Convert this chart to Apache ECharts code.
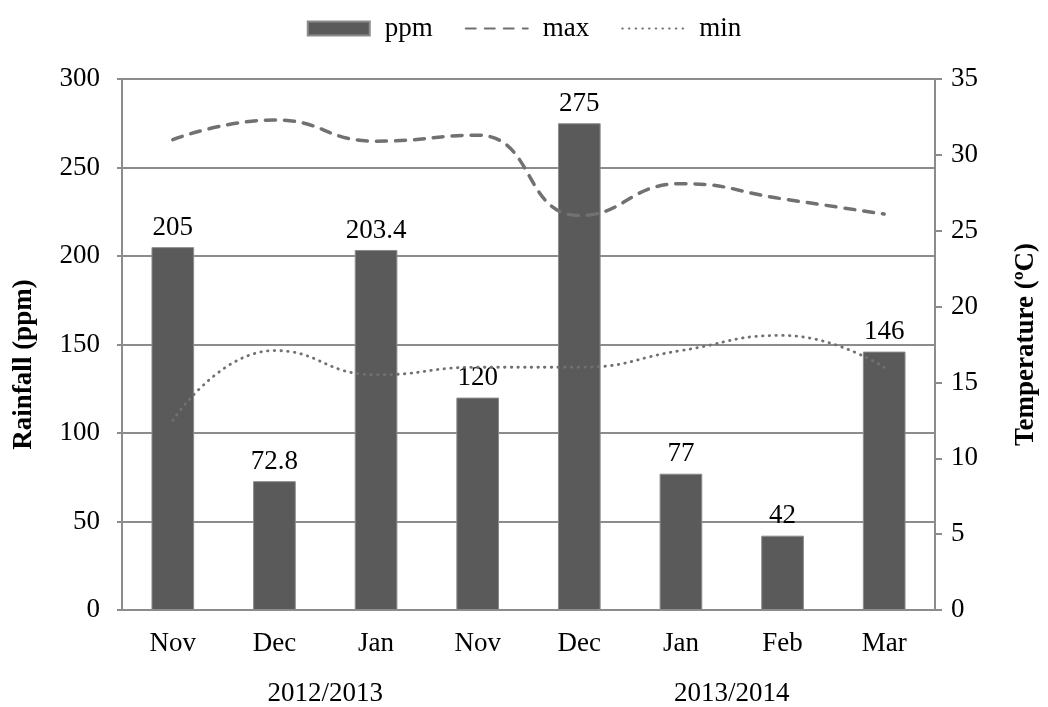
<!DOCTYPE html>
<html><head><meta charset="utf-8">
<script src="https://cdn.jsdelivr.net/npm/echarts@6/dist/echarts.min.js"></script>
<style>html,body{margin:0;padding:0;background:#fff}#c{width:1048px;height:707px}</style>
</head><body><div id="c"></div>
<script>
const months = ['Nov','Dec','Jan','Nov','Dec','Jan','Feb','Mar'];
const seasons = ['', '2012/2013', '', '2013/2014', ''];
const ppm = [205, 72.8, 203.4, 120, 275, 77, 42, 146];
const tMax = [31, 32.3, 30.9, 31.3, 26, 28.1, 27.1, 26.1];
const tMin = [12.5, 17.1, 15.5, 16, 16, 17.1, 18.1, 16];

const F = 'Liberation Serif, Times New Roman, serif';
const FS = 27;
const chart = echarts.init(document.getElementById('c'), null, {renderer:'canvas'});
chart.setOption({
  animation:false,
  textStyle:{fontFamily:F, color:'#000'},
  legend:{top:10, left:'center', itemGap:32, itemWidth:62, itemHeight:14,
    textStyle:{fontFamily:F, fontSize:FS, color:'#000', padding:[0,0,0,10]},
    data:[{name:'ppm', icon:'rect'},
          {name:'max', itemStyle:{opacity:0}},
          {name:'min', itemStyle:{opacity:0}}]},
  grid:{left:122, right:108, top:79, bottom:95, containLabel:false},
  xAxis:[
    {type:'category', data:months, axisLine:{lineStyle:{color:'#8c8c8c', width:2}},
     axisTick:{show:false}, axisLabel:{fontFamily:F, fontSize:FS, color:'#000', margin:20}},
    {type:'category', data:seasons, position:'bottom', boundaryGap:false, offset:62,
     axisLine:{show:false}, axisTick:{show:false}, splitLine:{show:false},
     axisLabel:{fontFamily:F, fontSize:FS, color:'#000', interval:0}}
  ],
  yAxis:[
    {type:'value', min:0, max:300, interval:50, name:'Rainfall (ppm)', nameLocation:'middle', nameGap:84,
     nameTextStyle:{fontFamily:F, fontSize:FS, fontWeight:'bold', color:'#000', padding:[0,40,0,0]},
     axisLine:{show:true, lineStyle:{color:'#8c8c8c', width:2}},
     axisTick:{show:true, length:5, lineStyle:{color:'#8c8c8c', width:2}},
     axisLabel:{fontFamily:F, fontSize:FS, color:'#000', margin:22},
     splitLine:{lineStyle:{color:'#8c8c8c', width:2}}},
    {type:'value', min:0, max:35, interval:5, name:'Temperature (ºC)', nameLocation:'middle', nameGap:78,
     nameRotate:90,
     nameTextStyle:{fontFamily:F, fontSize:FS, fontWeight:'bold', color:'#000'},
     axisLine:{show:true, lineStyle:{color:'#8c8c8c', width:2}},
     axisTick:{show:true, length:7, lineStyle:{color:'#8c8c8c', width:2}},
     axisLabel:{fontFamily:F, fontSize:FS, color:'#000', margin:16},
     splitLine:{show:false}}
  ],
  series:[
    {name:'ppm', type:'bar', data:ppm, barWidth:'42%', z:2,
     itemStyle:{color:'#5a5a5a', borderColor:'#8c8c8c', borderWidth:1},
     label:{show:true, position:'top', distance:6, fontFamily:F, fontSize:FS, color:'#000'}},
    {name:'max', type:'line', yAxisIndex:1, data:tMax, smooth:0.5, symbol:'none', z:3,
     lineStyle:{color:'#727070', width:3.5, type:[10,9], cap:'round'}, itemStyle:{color:'#727070'}},
    {name:'min', type:'line', yAxisIndex:1, data:tMin, smooth:0.5, symbol:'none', z:3,
     lineStyle:{color:'#727070', width:2.8, type:[0.5,6.2], cap:'round'}, itemStyle:{color:'#727070'}}
  ]
});
</script></body></html>
